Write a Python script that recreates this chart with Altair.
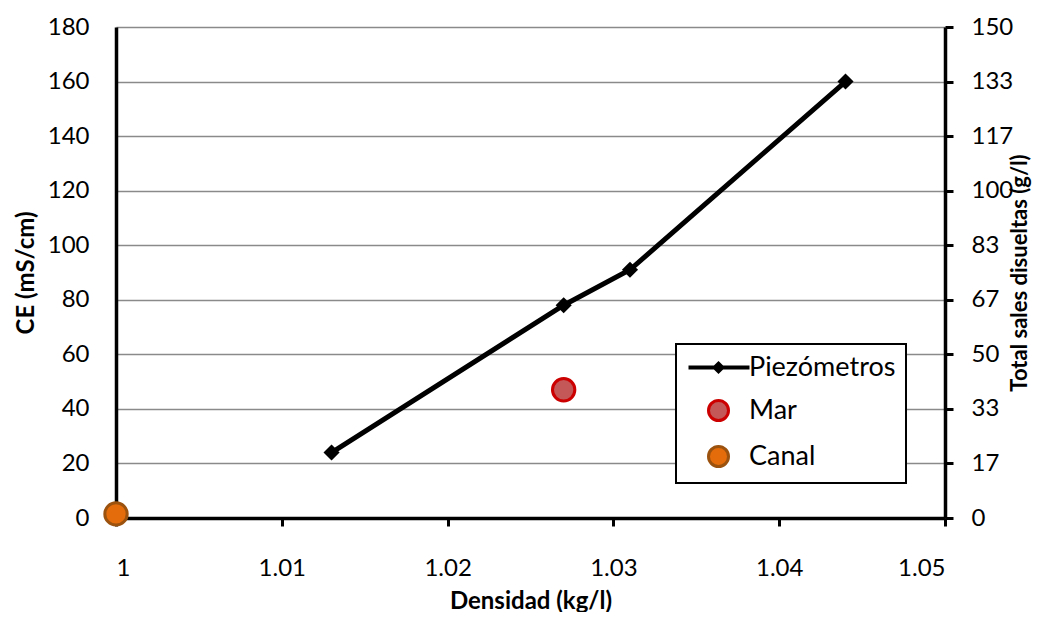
import altair as alt
import pandas as pd

# Data
piezo_dens = [1.013, 1.027, 1.031, 1.044]
piezo_ce = [24, 78, 91, 160]
mar_dens = [1.027]
mar_ce = [47]
canal_dens = [1.0]
canal_ce = [1.5]

series = ["Piezómetros", "Mar", "Canal"]
x_ticks = [1.0, 1.01, 1.02, 1.03, 1.04, 1.05]
ce_ticks = [0, 20, 40, 60, 80, 100, 120, 140, 160, 180]
tds_ticks = [v * 150 / 180 for v in ce_ticks]

piezo = pd.DataFrame({"dens": piezo_dens, "ce": piezo_ce})
piezo["tds"] = piezo["ce"] * 150 / 180
pts = pd.DataFrame({
    "dens": mar_dens + canal_dens,
    "ce": mar_ce + canal_ce,
    "serie": ["Mar"] * len(mar_dens) + ["Canal"] * len(canal_dens),
})

FONT = "Lato"

x_enc = alt.X(
    "dens:Q",
    scale=alt.Scale(domain=[1.0, 1.05], nice=False, zero=False),
    axis=alt.Axis(
        values=x_ticks, format="~g", title="Densidad (kg/l)",
        grid=False, domainColor="black", domainWidth=3.5,
        ticks=True, tickSize=8, tickWidth=3, tickColor="black",
        labelPadding=30, titlePadding=9,
    ),
)
y_enc = alt.Y(
    "ce:Q",
    scale=alt.Scale(domain=[0, 180], nice=False),
    axis=alt.Axis(
        values=ce_ticks, title="CE (mS/cm)", grid=True,
        gridColor="#8a8a8a", gridWidth=1.3,
        domainColor="black", domainWidth=3.5,
        ticks=False, tickSize=0, labelPadding=27, titlePadding=9,
    ),
)

line = alt.Chart(piezo).mark_line(color="black", strokeWidth=5).encode(x=x_enc, y=y_enc)
diam = alt.Chart(piezo).mark_point(
    shape="diamond", filled=True, color="black", size=260, opacity=1
).encode(x=x_enc, y=y_enc)

legend_path = "M-2.85,-0.05 L2.95,-0.05 L2.95,0.05 L-2.85,0.05 Z M0,-0.45 L0.45,0 L0,0.45 L-0.45,0 Z"

leg = alt.Legend(
    title=None, orient="none", legendX=560, legendY=317,
    symbolSize=400, symbolStrokeWidth=3, symbolOffset=19,
    labelOffset=17, rowPadding=13, padding=10,
    strokeColor="black", fillColor="white",
    labelFont=FONT, labelFontSize=27, labelColor="black",
)

dots = alt.Chart(pts).mark_point(
    filled=True, size=500, strokeWidth=3, opacity=1, clip=False
).encode(
    x=x_enc,
    y=y_enc,
    fill=alt.Fill(
        "serie:N",
        scale=alt.Scale(domain=series, range=["black", "#c45757", "#e46c0a"]),
        legend=leg,
    ),
    stroke=alt.Stroke(
        "serie:N",
        scale=alt.Scale(domain=series, range=["black", "#cc0000", "#9c520f"]),
        legend=leg,
    ),
    shape=alt.Shape(
        "serie:N",
        scale=alt.Scale(domain=series, range=[legend_path, "circle", "circle"]),
        legend=leg,
    ),
)

left = alt.layer(line, diam, dots)

right = alt.Chart(piezo).mark_point(opacity=0).encode(
    x=x_enc,
    y=alt.Y(
        "tds:Q",
        scale=alt.Scale(domain=[0, 150], nice=False),
        axis=alt.Axis(
            orient="right", values=tds_ticks, format=".0f",
            title="Total sales disueltas (g/l)", titleAngle=270,
            titleFontSize=22,
            grid=False, domainColor="black", domainWidth=3.5,
            ticks=True, tickSize=8, tickWidth=3, tickColor="black",
            labelPadding=18, titlePadding=19,
        ),
    ),
)

chart = alt.layer(left, right).resolve_scale(y="independent").properties(
    width=829, height=491,
    autosize=alt.AutoSizeParams(type="none"),
    padding={"left": 108, "top": 19, "right": 92, "bottom": 94},
).configure_view(stroke=None).configure_axis(
    labelFont=FONT, labelFontSize=24, labelColor="black",
    titleFont=FONT, titleFontSize=24, titleFontWeight="bold", titleColor="black",
).configure_legend(strokeWidth=2)

chart.save("out.html", embed_options={"renderer": "svg", "actions": False})
